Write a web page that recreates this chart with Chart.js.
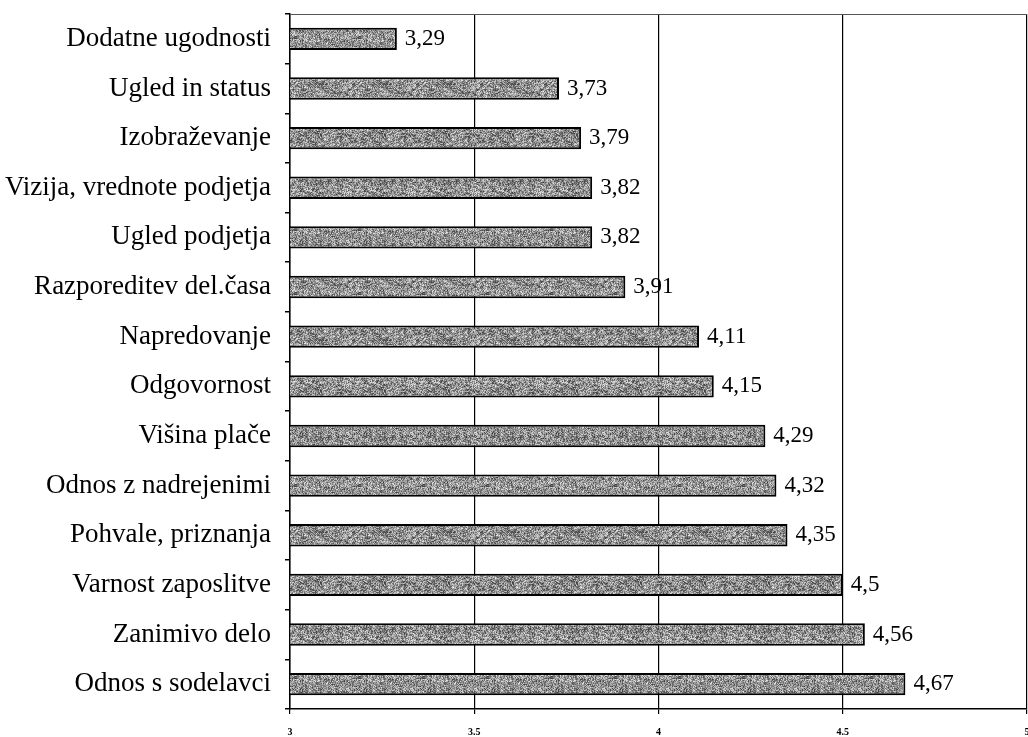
<!DOCTYPE html>
<html>
<head>
<meta charset="utf-8">
<script src="https://cdn.jsdelivr.net/npm/chart.js@4.4.1/dist/chart.umd.min.js"></script>
<style>
html,body{margin:0;padding:0;background:#fff;}
#wrap{width:1028px;height:737px;position:relative;}
</style>
</head>
<body>
<div id="wrap"><canvas id="c" width="1028" height="737"></canvas></div>
<script>
const categories = [
  "Dodatne ugodnosti",
  "Ugled in status",
  "Izobraževanje",
  "Vizija, vrednote podjetja",
  "Ugled podjetja",
  "Razporeditev del.časa",
  "Napredovanje",
  "Odgovornost",
  "Višina plače",
  "Odnos z nadrejenimi",
  "Pohvale, priznanja",
  "Varnost zaposlitve",
  "Zanimivo delo",
  "Odnos s sodelavci"
];
const values = [3.29, 3.73, 3.79, 3.82, 3.82, 3.91, 4.11, 4.15, 4.29, 4.32, 4.35, 4.5, 4.56, 4.67];
const xTicks = [3, 3.5, 4, 4.5, 5];

// speckled gray texture (deterministic hash)
function makePattern() {
  const s = 64;
  const pc = document.createElement('canvas');
  pc.width = s; pc.height = s;
  const g = pc.getContext('2d');
  const img = g.createImageData(s, s);
  for (let y = 0; y < s; y++) {
    for (let x = 0; x < s; x++) {
      const h = Math.abs(Math.sin(x * 12.9898 + y * 78.233) * 43758.5453) % 1;
      const h2 = Math.abs(Math.sin(Math.floor(x / 4) * 3.17 + Math.floor(y / 3) * 9.71) * 9137.13) % 1;
      const v = Math.round(55 + h * 130 + h2 * 50);
      const i = (y * s + x) * 4;
      img.data[i] = v; img.data[i + 1] = v; img.data[i + 2] = v; img.data[i + 3] = 255;
    }
  }
  g.putImageData(img, 0, 0);
  return g.createPattern(pc, 'repeat');
}
const pattern = makePattern();

const valueLabels = {
  id: 'valueLabels',
  afterDatasetsDraw(chart) {
    const ctx = chart.ctx;
    const meta = chart.getDatasetMeta(0);
    ctx.save();
    ctx.font = '23px "Liberation Serif", "Times New Roman", serif';
    ctx.fillStyle = '#000';
    ctx.textAlign = 'left';
    ctx.textBaseline = 'middle';
    meta.data.forEach((bar, i) => {
      const txt = String(values[i]).replace('.', ',');
      ctx.fillText(txt, bar.x + 8, bar.y);
    });
    ctx.restore();
  }
};

const topBorder = {
  id: 'topBorder',
  beforeDatasetsDraw(chart) {
    const a = chart.chartArea;
    const ctx = chart.ctx;
    ctx.save();
    ctx.strokeStyle = '#555';
    ctx.lineWidth = 1;
    ctx.beginPath();
    ctx.moveTo(a.left, a.top + 0.5);
    ctx.lineTo(a.right, a.top + 0.5);
    ctx.stroke();
    ctx.restore();
  }
};

new Chart(document.getElementById('c'), {
  type: 'bar',
  data: {
    labels: categories,
    datasets: [{
      data: values,
      backgroundColor: pattern,
      borderColor: '#000',
      borderWidth: 2,
      borderSkipped: false,
      barPercentage: 0.45,
      categoryPercentage: 1.0
    }]
  },
  options: {
    indexAxis: 'y',
    responsive: false,
    animation: false,
    devicePixelRatio: 1,
    layout: { padding: { top: 14, right: 1, left: 0, bottom: 0 } },
    plugins: { legend: { display: false }, tooltip: { enabled: false } },
    scales: {
      x: {
        type: 'linear',
        min: 3, max: 5,
        afterBuildTicks(scale) { scale.ticks = xTicks.map(v => ({ value: v })); },
        afterFit(scale) { scale.height = 28; scale.paddingLeft = 0; scale.paddingRight = 0; },
        border: { display: true, color: '#000', width: 1.5 },
        grid: {
          color: '#000', lineWidth: 1.2, tickLength: 5, drawTicks: true, drawOnChartArea: true
        },
        ticks: {
          color: '#000', padding: 12, maxRotation: 0, autoSkip: false,
          font: { family: '"Liberation Serif", serif', size: 10, weight: 'bold' },
          callback: (v) => String(v)
        }
      },
      y: {
        type: 'category',
        afterFit(scale) { scale.width = 290; scale.paddingTop = 0; scale.paddingBottom = 0; },
        border: { display: true, color: '#000', width: 1.5 },
        grid: {
          offset: true, color: '#000', lineWidth: 1.5, tickLength: 5, drawOnChartArea: false, drawTicks: true
        },
        ticks: {
          color: '#000', padding: 14, autoSkip: false,
          font: { family: '"Liberation Serif", "Times New Roman", serif', size: 27 }
        }
      }
    }
  },
  plugins: [valueLabels, topBorder]
});
</script>
</body>
</html>
